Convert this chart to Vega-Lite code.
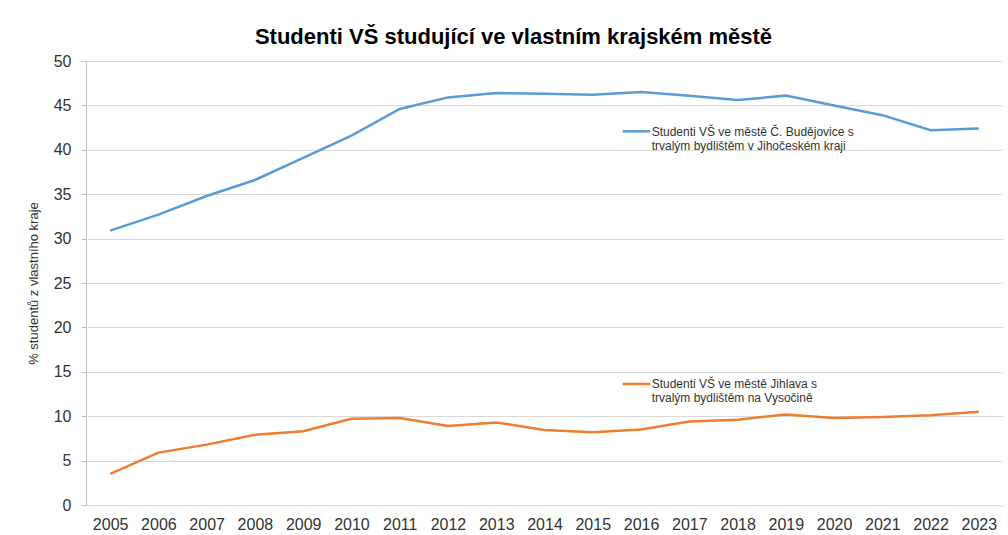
{
  "$schema": "https://vega.github.io/schema/vega-lite/v6.json",
  "width": 917,
  "height": 444,
  "autosize": {"type": "none"},
  "padding": {"left": 86, "top": 61, "right": 5, "bottom": 30},
  "background": "white",
  "title": {
    "text": "Studenti VŠ studující ve vlastním krajském městě",
    "font": "Liberation Sans",
    "fontSize": 22,
    "fontWeight": "bold",
    "color": "#000000",
    "anchor": "middle",
    "dx": -31,
    "offset": 4
  },
  "config": {
    "view": {"stroke": null},
    "axis": {"labelFont": "Liberation Sans", "labelColor": "#333333", "labelFontSize": 16}
  },
  "data": {
    "values": [
      {"year": 2005, "series": "Budějovice", "value": 30.9},
      {"year": 2006, "series": "Budějovice", "value": 32.7},
      {"year": 2007, "series": "Budějovice", "value": 34.8},
      {"year": 2008, "series": "Budějovice", "value": 36.6},
      {"year": 2009, "series": "Budějovice", "value": 39.1},
      {"year": 2010, "series": "Budějovice", "value": 41.6},
      {"year": 2011, "series": "Budějovice", "value": 44.6},
      {"year": 2012, "series": "Budějovice", "value": 45.9},
      {"year": 2013, "series": "Budějovice", "value": 46.4},
      {"year": 2014, "series": "Budějovice", "value": 46.3},
      {"year": 2015, "series": "Budějovice", "value": 46.2},
      {"year": 2016, "series": "Budějovice", "value": 46.5},
      {"year": 2017, "series": "Budějovice", "value": 46.1},
      {"year": 2018, "series": "Budějovice", "value": 45.6},
      {"year": 2019, "series": "Budějovice", "value": 46.1},
      {"year": 2020, "series": "Budějovice", "value": 45.0},
      {"year": 2021, "series": "Budějovice", "value": 43.9},
      {"year": 2022, "series": "Budějovice", "value": 42.2},
      {"year": 2023, "series": "Budějovice", "value": 42.4},
      {"year": 2005, "series": "Jihlava", "value": 3.5},
      {"year": 2006, "series": "Jihlava", "value": 5.9},
      {"year": 2007, "series": "Jihlava", "value": 6.8},
      {"year": 2008, "series": "Jihlava", "value": 7.9},
      {"year": 2009, "series": "Jihlava", "value": 8.3},
      {"year": 2010, "series": "Jihlava", "value": 9.7},
      {"year": 2011, "series": "Jihlava", "value": 9.8},
      {"year": 2012, "series": "Jihlava", "value": 8.9},
      {"year": 2013, "series": "Jihlava", "value": 9.3},
      {"year": 2014, "series": "Jihlava", "value": 8.45},
      {"year": 2015, "series": "Jihlava", "value": 8.2},
      {"year": 2016, "series": "Jihlava", "value": 8.5},
      {"year": 2017, "series": "Jihlava", "value": 9.4},
      {"year": 2018, "series": "Jihlava", "value": 9.6},
      {"year": 2019, "series": "Jihlava", "value": 10.2},
      {"year": 2020, "series": "Jihlava", "value": 9.8},
      {"year": 2021, "series": "Jihlava", "value": 9.9},
      {"year": 2022, "series": "Jihlava", "value": 10.1},
      {"year": 2023, "series": "Jihlava", "value": 10.5}
    ]
  },
  "layer": [
    {
      "mark": {"type": "line", "strokeWidth": 2.5},
      "encoding": {
        "x": {
          "field": "year",
          "type": "quantitative",
          "scale": {"domain": [2004.5, 2023.5], "nice": false, "zero": false},
          "axis": {
            "values": [2005, 2006, 2007, 2008, 2009, 2010, 2011, 2012, 2013, 2014, 2015, 2016, 2017, 2018, 2019, 2020, 2021, 2022, 2023],
            "format": "d",
            "grid": false,
            "ticks": false,
            "tickSize": 0,
            "labelPadding": 11,
            "domainColor": "#d9d9d9",
            "title": null
          }
        },
        "y": {
          "field": "value",
          "type": "quantitative",
          "scale": {"domain": [0, 50], "nice": false},
          "axis": {
            "values": [0, 5, 10, 15, 20, 25, 30, 35, 40, 45, 50],
            "grid": true,
            "gridColor": "#d9d9d9",
            "domainColor": "#bfbfbf",
            "tickColor": "#bfbfbf",
            "tickSize": 5,
            "labelPadding": 10,
            "title": "% studentů z vlastního kraje",
            "titleFont": "Liberation Sans",
            "titleFontSize": 13,
            "titleFontWeight": "normal",
            "titleColor": "#333333",
            "titlePadding": 13
          }
        },
        "color": {
          "field": "series",
          "type": "nominal",
          "scale": {"domain": ["Budějovice", "Jihlava"], "range": ["#5B9BD5", "#ED7D31"]},
          "legend": null
        }
      }
    },
    {
      "data": {"values": [{}]},
      "mark": {"type": "rule", "color": "#5B9BD5", "strokeWidth": 2.5},
      "encoding": {"x": {"datum": 2015.62}, "x2": {"datum": 2016.19}, "y": {"datum": 42.08}}
    },
    {
      "data": {"values": [{}]},
      "mark": {"type": "text", "text": ["Studenti VŠ ve městě Č. Budějovice s", "trvalým bydlištěm v Jihočeském kraji"], "font": "Liberation Sans", "fontSize": 12, "color": "#333333", "align": "left", "baseline": "alphabetic", "lineHeight": 14},
      "encoding": {"x": {"datum": 2016.22}, "y": {"datum": 41.6}}
    },
    {
      "data": {"values": [{}]},
      "mark": {"type": "rule", "color": "#ED7D31", "strokeWidth": 2.5},
      "encoding": {"x": {"datum": 2015.62}, "x2": {"datum": 2016.19}, "y": {"datum": 13.63}}
    },
    {
      "data": {"values": [{}]},
      "mark": {"type": "text", "text": ["Studenti VŠ ve městě Jihlava s", "trvalým bydlištěm na Vysočině"], "font": "Liberation Sans", "fontSize": 12, "color": "#333333", "align": "left", "baseline": "alphabetic", "lineHeight": 14},
      "encoding": {"x": {"datum": 2016.22}, "y": {"datum": 13.12}}
    }
  ]
}
